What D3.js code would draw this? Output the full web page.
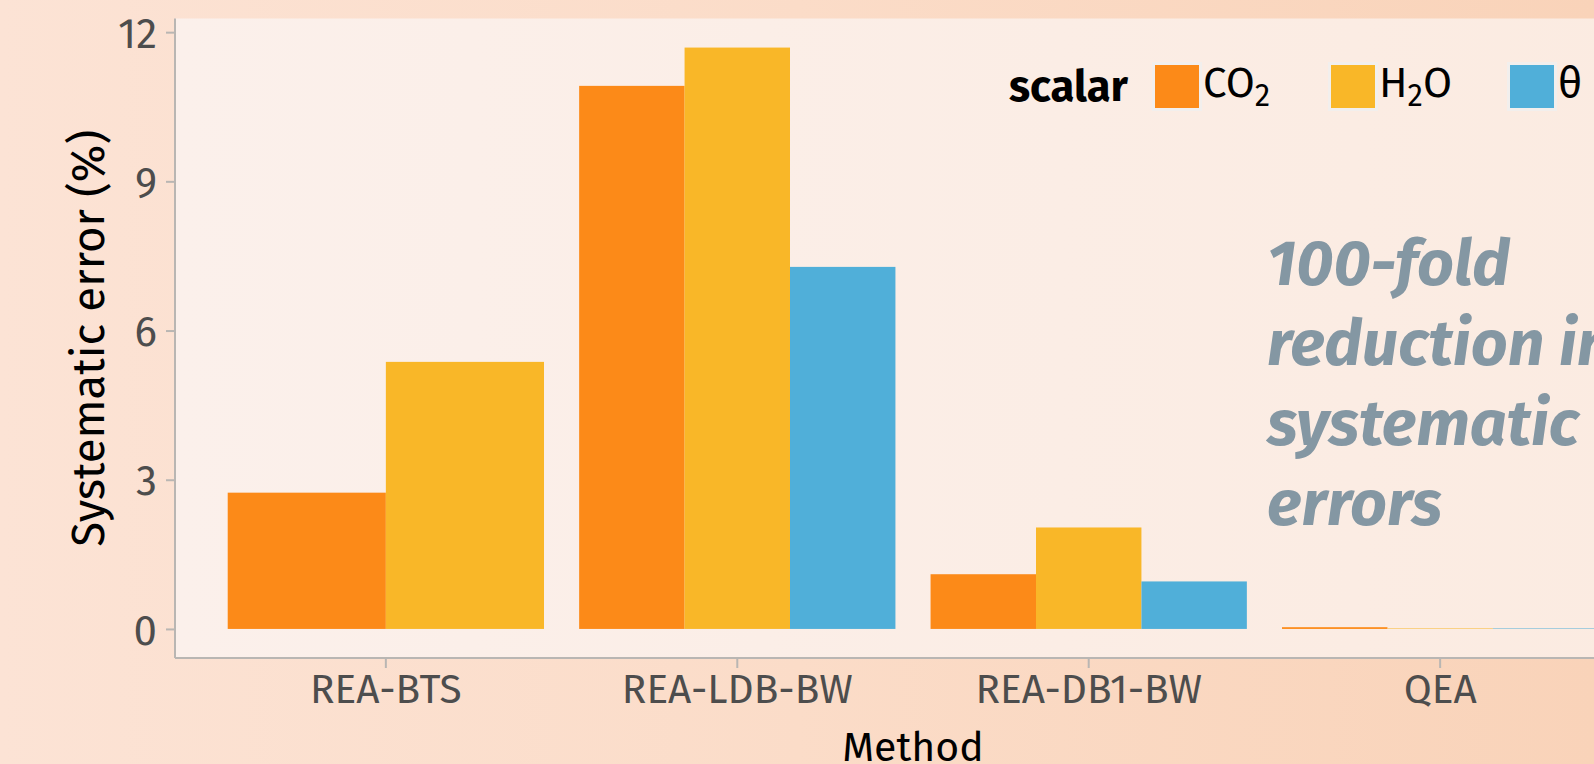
<!DOCTYPE html>
<html>
<head>
<meta charset="utf-8">
<script src="https://cdn.jsdelivr.net/npm/d3@7"></script>
<style>
  html, body { margin: 0; padding: 0; background: #fbe0cf; }
  svg { display: block; }
  text { font-family: "Fira Sans", Lato, "Open Sans", sans-serif; }
</style>
</head>
<body>
<svg id="chart" width="1594" height="764"></svg>
<script>
// ---- data ----
const methods = ["REA-BTS", "REA-LDB-BW", "REA-DB1-BW", "QEA"];
const scalars = ["CO2", "H2O", "theta"];
const co2Values   = [2.74, 10.92, 1.10, 0.035];
const h2oValues   = [5.37, 11.69, 2.04, 0.01];
const thetaValues = [null, 7.28, 0.955, 0.01];
const yTicks = [0, 3, 6, 9, 12];
const scalarColors = ["#fc8a18", "#f9b728", "#50afd9"];
const annotationLines = ["100-fold", "reduction in", "systematic", "errors"];

const seriesValues = { CO2: co2Values, H2O: h2oValues, theta: thetaValues };
const rows = [];
methods.forEach((m, i) => {
  scalars.forEach(s => {
    const v = seriesValues[s][i];
    if (v !== null) rows.push({ method: m, scalar: s, value: v });
  });
});

// ---- layout ----
const W = 1594, H = 764;
const panel = { left: 175, right: 1651, top: 18.5, bottom: 658 };

const svg = d3.select("#chart");
const defs = svg.append("defs");
const bgGrad = defs.append("linearGradient").attr("id", "bgGrad").attr("x1", "0").attr("x2", "1").attr("y1", "0").attr("y2", "0");
bgGrad.append("stop").attr("offset", "0").attr("stop-color", "#fce3d5");
bgGrad.append("stop").attr("offset", "0.5").attr("stop-color", "#fbdcc8");
bgGrad.append("stop").attr("offset", "1").attr("stop-color", "#f9d3b9");
const pGrad = defs.append("linearGradient").attr("id", "pGrad").attr("x1", "0").attr("x2", "1").attr("y1", "0").attr("y2", "0");
pGrad.append("stop").attr("offset", "0").attr("stop-color", "#fbf0eb");
pGrad.append("stop").attr("offset", "1").attr("stop-color", "#fbebe1");

svg.append("rect").attr("width", W).attr("height", H).attr("fill", "url(#bgGrad)");
svg.append("rect")
  .attr("x", panel.left).attr("y", panel.top)
  .attr("width", panel.right - panel.left).attr("height", panel.bottom - panel.top)
  .attr("fill", "url(#pGrad)");

const maxV = d3.max(rows, d => d.value);
const yScale = d3.scaleLinear()
  .domain([-0.05 * maxV, maxV * 1.05])
  .range([panel.bottom, panel.top]);

const xScale = d3.scaleBand()
  .domain(methods)
  .range([panel.left, panel.right])
  .paddingInner(0.1)
  .paddingOuter(0.15);

const color = d3.scaleOrdinal().domain(scalars).range(scalarColors);

// bars (dodged; groups with missing scalars expand to fill)
const g = svg.append("g");
methods.forEach(m => {
  const groupRows = rows.filter(r => r.method === m);
  const inner = d3.scaleBand()
    .domain(groupRows.map(r => r.scalar))
    .range([xScale(m), xScale(m) + xScale.bandwidth()]);
  g.selectAll(null)
    .data(groupRows)
    .join("rect")
    .attr("x", d => inner(d.scalar))
    .attr("width", inner.bandwidth())
    .attr("y", d => yScale(d.value))
    .attr("height", d => yScale(0) - yScale(d.value))
    .attr("fill", d => color(d.scalar));
});

// axes
const axisColor = "#b9b6b3";
const yAxis = svg.append("g")
  .attr("transform", `translate(${panel.left},0)`)
  .call(d3.axisLeft(yScale).tickValues(yTicks).tickSize(9).tickPadding(9).tickSizeOuter(0));
yAxis.select(".domain").remove();
yAxis.append("line")
  .attr("x1", 0).attr("x2", 0).attr("y1", panel.top).attr("y2", panel.bottom)
  .attr("stroke", axisColor).attr("stroke-width", 2);
yAxis.selectAll(".tick line").attr("stroke", axisColor).attr("stroke-width", 2);
yAxis.selectAll(".tick text")
  .attr("fill", "#4d4d4d").attr("font-size", 42).attr("dy", "0.36em");

const xAxis = svg.append("g")
  .attr("transform", `translate(0,${panel.bottom})`)
  .call(d3.axisBottom(xScale).tickSize(10).tickPadding(5).tickSizeOuter(0));
xAxis.select(".domain").remove();
xAxis.append("line")
  .attr("x1", panel.left).attr("x2", panel.right).attr("y1", 0).attr("y2", 0)
  .attr("stroke", axisColor).attr("stroke-width", 2);
xAxis.selectAll(".tick line").attr("stroke", axisColor).attr("stroke-width", 2);
xAxis.selectAll(".tick text")
  .attr("fill", "#4d4d4d").attr("font-size", 40.6).attr("dy", "0.75em");

// axis titles
svg.append("text")
  .attr("x", (panel.left + panel.right) / 2).attr("y", 761)
  .attr("text-anchor", "middle").attr("font-size", 41).attr("fill", "#000")
  .text("Method");
svg.append("text")
  .attr("transform", `translate(104,${(panel.top + panel.bottom) / 2}) rotate(-90)`)
  .attr("text-anchor", "middle").attr("font-size", 45.5).attr("fill", "#000")
  .text("Systematic error (%)");

// legend
const legend = svg.append("g");
legend.append("text")
  .attr("x", 1009).attr("y", 101).attr("font-size", 43.6).attr("font-weight", "bold")
  .attr("fill", "#000").text("scalar");
const keyX = [1152, 1328, 1507];
const labelParts = [["CO", "2", ""], ["H", "2", "O"], ["θ", "", ""]];
scalars.forEach((s, i) => {
  const kg = legend.append("g").attr("transform", `translate(${keyX[i]},62)`);
  kg.append("rect").attr("width", 50).attr("height", 49).attr("fill", "#f2efed");
  kg.append("rect").attr("x", 3).attr("y", 3).attr("width", 44).attr("height", 43).attr("fill", color(s));
  const t = legend.append("text").attr("x", keyX[i] + 51).attr("y", 97)
    .attr("font-size", 42).attr("fill", "#000");
  const p = labelParts[i];
  t.append("tspan").text(p[0]);
  if (p[1]) t.append("tspan").attr("font-size", 31).attr("dy", 9).text(p[1]);
  if (p[2]) t.append("tspan").attr("dy", -9).text(p[2]);
});

// annotation
const ann = svg.append("text")
  .attr("x", 1267).attr("y", 285)
  .attr("font-size", 64.5).attr("font-weight", "bold").attr("font-style", "italic")
  .attr("fill", "#8497a3");
annotationLines.forEach((line, i) => {
  ann.append("tspan").attr("x", 1267).attr("dy", i === 0 ? 0 : 80).text(line);
});
</script>
</body>
</html>
